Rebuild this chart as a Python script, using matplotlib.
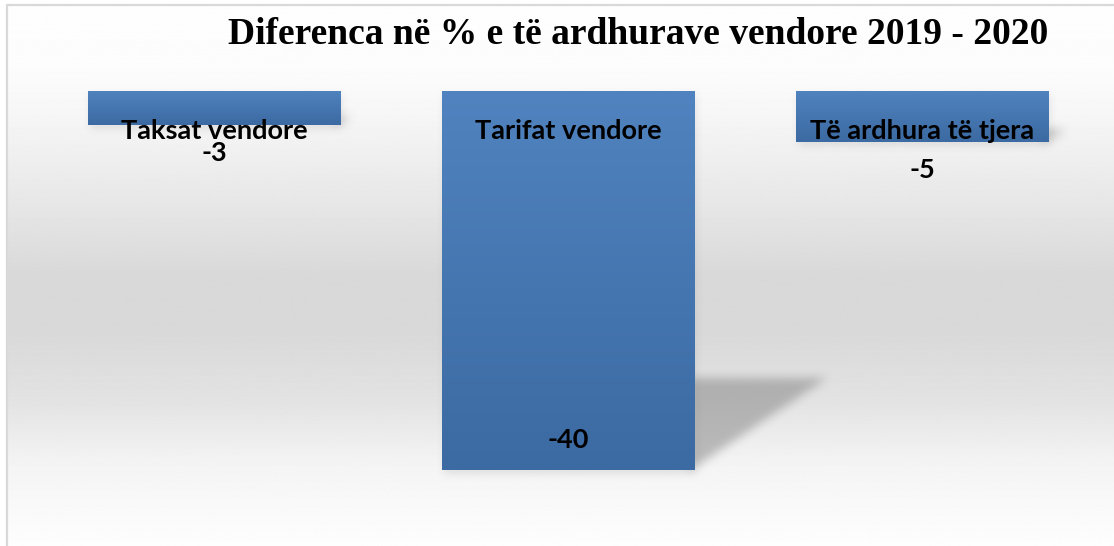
import numpy as np
import matplotlib
matplotlib.use('Agg')
import matplotlib.pyplot as plt
import matplotlib.transforms as mtransforms
from matplotlib.colors import LinearSegmentedColormap
from matplotlib.patches import Rectangle
from matplotlib.path import Path

# data
categories = ['Taksat vendore', 'Tarifat vendore', 'Të ardhura të tjera']
values = [-3.6, -40.0, -5.4]          # bar lengths as drawn
value_labels = ['-3', '-40', '-5']    # labels as printed on the chart
title = 'Diferenca në % e të ardhurave vendore 2019 - 2020'

W, H = 1114, 546
fig = plt.figure(figsize=(W / 100, H / 100), dpi=100)
ax = fig.add_axes([0, 0, 1, 1])
ax.axis('off')


def box_blur(a, r):
    # separable box blur, radius r pixels
    k = 2 * r + 1
    p = np.pad(a, r, mode='edge')
    c = np.cumsum(np.pad(p, ((1, 0), (0, 0))), axis=0)
    p = (c[k:] - c[:-k]) / k
    c = np.cumsum(np.pad(p, ((0, 0), (1, 0))), axis=1)
    return (c[:, k:] - c[:, :-k]) / k


# background: white -> light gray -> white, inside a thin border
stops_y = [0, 60, 110, 200, 270, 330, 400, 460, 546]
stops_g = [0.995, 0.99, 0.965, 0.905, 0.85, 0.85, 0.89, 0.955, 0.995]
rows = np.interp(np.arange(H), stops_y, stops_g)
bg = np.repeat(rows[:, None], 2, axis=1)
ax.imshow(bg, cmap='gray', vmin=0, vmax=1, aspect='auto',
          extent=(8 / W, 1, 0, 1 - 6 / H), transform=ax.transAxes, zorder=0)
fig.patches.append(Rectangle((7 / W, -0.02), 1.1, 1 - 5 / H + 0.02,
                             transform=fig.transFigure, fill=False,
                             edgecolor='#d9d9d9', lw=1.6))

x = np.arange(len(categories))
bars = ax.bar(x, values, width=0.712, color='#4676b0', zorder=3)
ax.set_xlim(-0.6045, 2.5424)
ax.set_ylim(-48.02, 9.60)

grad = np.linspace(0, 1, 256)[:, None]
bar_cmap = LinearSegmentedColormap.from_list('bar', ['#5083bf', '#3c6aa2'])

# shadows, rasterised in pixel space and blurred
gx, gy = np.meshgrid(np.arange(W) + 0.5, np.arange(H) + 0.5)
pix = np.column_stack([gx.ravel(), gy.ravel()])
tri_mask = np.zeros(H * W)
drop_mask = np.zeros(H * W)
for b in bars:
    x0, w, h = b.get_x(), b.get_width(), b.get_height()
    xr = x0 + w
    ytop = 0.757 * h
    dx = 0.0094 * abs(h)
    tri = ax.transData.transform([(xr - 0.01, ytop), (xr + dx, ytop), (xr - 0.01, h)])
    tri_mask += Path(tri).contains_points(pix)
    rect = ax.transData.transform([(x0, 0), (xr, 0), (xr, h), (x0, h)])
    rect = rect + np.array([2, -4])
    drop_mask += Path(rect).contains_points(pix)
    # vertical gradient fill
    im = ax.imshow(grad, cmap=bar_cmap, aspect='auto',
                   extent=(x0, xr, h, 0), zorder=3)
    im.set_clip_path(b)

tri_mask = box_blur(box_blur(tri_mask.reshape(H, W), 5), 5)
drop_mask = box_blur(box_blur(drop_mask.reshape(H, W), 4), 4)
alpha = np.clip(0.44 * tri_mask + 0.16 * drop_mask, 0, 1)
shadow = np.zeros((H, W, 4))
shadow[..., :3] = 0.45
shadow[..., 3] = alpha
ax.imshow(shadow, origin='lower', aspect='auto', extent=(0, 1, 0, 1),
          transform=ax.transAxes, zorder=2)
ax.set_xlim(-0.6045, 2.5424)
ax.set_ylim(-48.02, 9.60)

# category labels at a fixed height near the top
trans = mtransforms.blended_transform_factory(ax.transData, ax.transAxes)
for xi, cat in zip(x, categories):
    ax.text(xi, 1 - 131 / H, cat, transform=trans, ha='center', va='center',
            fontsize=19.5, fontweight='bold', family='Lato', color='black',
            zorder=5)

# value labels
for b, lab in zip(bars, value_labels):
    h = b.get_height()
    off = 21.5 if abs(h) > 20 else -20
    ax.annotate(lab, (b.get_x() + b.get_width() / 2, h), xytext=(0, off),
                textcoords='offset points', ha='center', va='center',
                fontsize=19.5, fontweight='bold', family='Lato', zorder=5)

fig.text(638 / W, 1 - 35 / H, title, ha='center', va='center', fontsize=27,
         fontweight='bold', family='Liberation Serif')

fig.savefig('out.png', dpi=100)
